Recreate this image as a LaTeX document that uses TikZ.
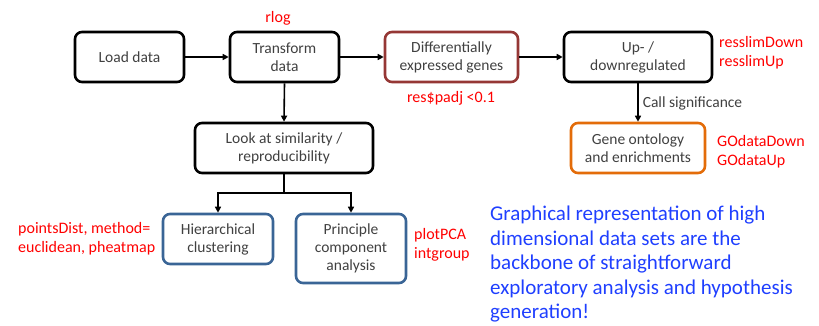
\documentclass[tikz,border=0pt]{standalone}
\usepackage{fontspec}
\setmainfont{Carlito}
\usetikzlibrary{arrows.meta}
\definecolor{txt}{HTML}{404040}
\definecolor{dered}{HTML}{953735}
\definecolor{goor}{HTML}{E36C09}
\definecolor{clblue}{HTML}{3A6596}
\definecolor{lblred}{HTML}{FF0000}
\definecolor{msgblue}{HTML}{1F3FFF}
\tikzset{
  box/.style={draw=black, line width=2.6pt, rounded corners=7pt, inner sep=0pt, align=center,
    text=txt, font=\fontsize{15.5}{18}\selectfont},
  lbl/.style={text=lblred, font=\fontsize{16}{19}\selectfont, inner sep=0pt, align=left},
  conn/.style={line width=1.6pt, -{Triangle[length=6pt,width=6pt]}},
}
\begin{document}
\begin{tikzpicture}[x=1pt,y=-1pt]
\useasboundingbox (0,0) rectangle (819,326);
\node[box, minimum width=109pt, minimum height=50pt] (load) at (129.5,57) {Load data};
\node[box, minimum width=109pt, minimum height=50pt] (trans) at (284.5,57) {Transform\\data};
\node[box, draw=dered, minimum width=133pt, minimum height=50pt] (de) at (451.5,57) {Differentially\\expressed genes};
\node[box, minimum width=148pt, minimum height=50pt] (updown) at (638,57) {Up- /\\downregulated};
\node[box, draw=goor, minimum width=134pt, minimum height=50pt] (go) at (638,148) {Gene ontology\\and enrichments};
\node[box, minimum width=178pt, minimum height=50pt] (look) at (284,148) {Look at similarity /\\reproducibility};
\node[box, draw=clblue, minimum width=110pt, minimum height=50pt] (hier) at (218,239) {Hierarchical\\clustering};
\node[box, draw=clblue, minimum width=110pt, minimum height=69pt] (pca) at (351,248.5) {Principle\\component\\analysis};

\draw[conn] (load) -- (trans);
\draw[conn] (trans) -- (de);
\draw[conn] (de) -- (updown);
\draw[conn] (trans.south) -- (look.north);
\draw[conn] (updown) -- node[right=4pt, inner sep=0pt, text=txt, font=\fontsize{15.5}{18}\selectfont, pos=0.52] (callsig) {Call significance} (go);
\coordinate (split) at (284,193);
\draw[line width=1.6pt] (look.south) -- (split);
\draw[conn] (split) -| (hier.north);
\draw[conn] (split) -| (pca.north);

\node[lbl] (rlog) at (278,18) {rlog};
\node[lbl] (padj) at (451,98) {res\$padj <0.1};
\node[lbl, anchor=west] (ress) at (719,52.5) {resslimDown\\resslimUp};
\node[lbl, anchor=west] (godata) at (717,151.5) {GOdataDown\\GOdataUp};
\node[lbl, anchor=west] (pdist) at (18,238.5) {pointsDist, method=\\euclidean, pheatmap};
\node[lbl, anchor=west] (plotpca) at (414,245) {plotPCA\\intgroup};
\node[text=msgblue, font=\fontsize{21}{24.5}\selectfont, anchor=north west, inner sep=0pt, align=left] (msg) at (490,206)
 {Graphical representation of high\\dimensional data sets are the\\backbone of straightforward\\exploratory analysis and hypothesis\\generation!};
\end{tikzpicture}
\end{document}
